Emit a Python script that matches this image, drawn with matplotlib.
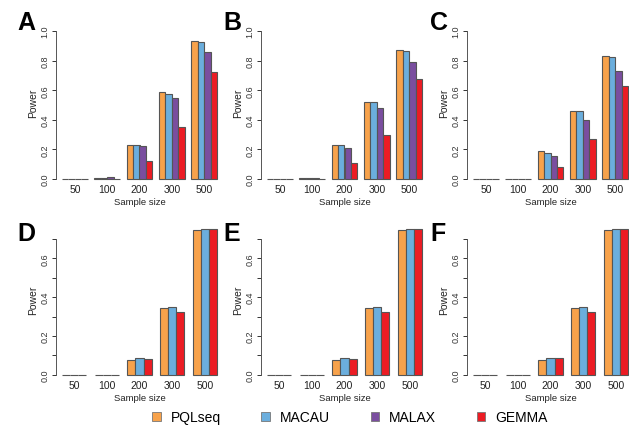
import numpy as np
import matplotlib
matplotlib.use("Agg")
import matplotlib.pyplot as plt
from matplotlib.patches import Patch

plt.rcParams['font.family'] = ['Liberation Sans', 'DejaVu Sans']

sizes = ["50", "100", "200", "300", "500"]
methods_top = ["PQLseq", "MACAU", "MALAX", "GEMMA"]
methods_bottom = ["PQLseq", "MACAU", "GEMMA"]
colors = {"PQLseq": "#F7A24B", "MACAU": "#6BAEDD", "MALAX": "#7A4E9F", "GEMMA": "#EC1C24"}

# power values, one list per method (sample sizes 50,100,200,300,500)
A_pqlseq = [0.0, 0.005, 0.232, 0.585, 0.930]
A_macau = [0.0, 0.006, 0.229, 0.574, 0.924]
A_malax = [0.0, 0.012, 0.223, 0.547, 0.855]
A_gemma = [0.0, 0.002, 0.120, 0.349, 0.724]

B_pqlseq = [0.0, 0.008, 0.232, 0.523, 0.874]
B_macau = [0.0, 0.008, 0.232, 0.523, 0.867]
B_malax = [0.0, 0.008, 0.209, 0.480, 0.788]
B_gemma = [0.0, 0.003, 0.108, 0.297, 0.676]

C_pqlseq = [0.0, 0.0, 0.187, 0.457, 0.829]
C_macau = [0.0, 0.0, 0.173, 0.457, 0.822]
C_malax = [0.0, 0.0, 0.158, 0.396, 0.732]
C_gemma = [0.0, 0.0, 0.083, 0.270, 0.626]

D_pqlseq = [0.0, 0.0, 0.077, 0.342, 0.746]
D_macau = [0.0, 0.0, 0.084, 0.347, 0.753]
D_gemma = [0.0, 0.0, 0.083, 0.321, 0.750]

E_pqlseq = [0.0, 0.0, 0.077, 0.344, 0.746]
E_macau = [0.0, 0.0, 0.086, 0.347, 0.752]
E_gemma = [0.0, 0.0, 0.083, 0.321, 0.749]

F_pqlseq = [0.0, 0.0, 0.078, 0.344, 0.748]
F_macau = [0.0, 0.0, 0.086, 0.347, 0.753]
F_gemma = [0.0, 0.0, 0.084, 0.321, 0.750]

panels = [
    ("A", [A_pqlseq, A_macau, A_malax, A_gemma], methods_top),
    ("B", [B_pqlseq, B_macau, B_malax, B_gemma], methods_top),
    ("C", [C_pqlseq, C_macau, C_malax, C_gemma], methods_top),
    ("D", [D_pqlseq, D_macau, D_gemma], methods_bottom),
    ("E", [E_pqlseq, E_macau, E_gemma], methods_bottom),
    ("F", [F_pqlseq, F_macau, F_gemma], methods_bottom),
]

W, H = 629, 431
fig = plt.figure(figsize=(W / 100, H / 100), dpi=100)

# pixel layout: bar span of each column, y of zero and scale of each row
col_bars = [(62, 217), (267, 422), (473, 628)]
letter_x = [17, 223, 430]
rows = [dict(y0=180, ppu=148, ytop=1.0, ymax=1.04, letter_y=35,
             yticks=[0, 0.2, 0.4, 0.6, 0.8, 1.0], lab=None),
        dict(y0=375.7, ppu=194, ytop=0.7, ymax=0.78, letter_y=246,
             yticks=np.arange(0, 0.71, 0.1), lab=[0, 0.2, 0.4, 0.6])]

for i, (letter, vals, meths) in enumerate(panels):
    r = rows[i // 3]
    b0, b1 = col_bars[i % 3]
    n = len(meths)
    span = 5 * (n + 1) - 1
    ppu_x = (b1 - b0) / span
    ext = 0.04 * span
    xl, xr = 1 - ext, 5 * (n + 1) + ext
    left_px = b0 - ext * ppu_x
    right_px = b1 + ext * ppu_x
    bot_px = r["y0"] + 1
    ymin = -1 / r["ppu"]
    top_px = r["y0"] - r["ymax"] * r["ppu"]
    ax = fig.add_axes([left_px / W, 1 - bot_px / H, (right_px - left_px) / W, (bot_px - top_px) / H])
    ax.set_xlim(xl, xr)
    ax.set_ylim(ymin, r["ymax"])

    for j, m in enumerate(meths):
        xs = [1 + g * (n + 1) + j for g in range(5)]
        ax.bar(xs, vals[j], width=1, align="edge", color=colors[m],
               edgecolor="#555555", linewidth=0.8, clip_on=False)

    centers = [1 + g * (n + 1) + n / 2 for g in range(5)]
    ax.set_xticks(centers)
    ax.set_xticklabels(sizes, fontsize=7.5, color="#222222")
    ax.tick_params(axis="x", length=0, pad=3)

    ax.set_yticks(r["yticks"])
    if r["lab"] is None:
        ax.set_yticklabels(["%.1f" % t for t in r["yticks"]], rotation=90, va="center")
    else:
        ax.set_yticklabels(["%.1f" % t if any(abs(t - l) < 1e-6 for l in r["lab"]) else ""
                            for t in r["yticks"]], rotation=90, va="center")
    ax.tick_params(axis="y", length=3, width=0.7, pad=1.5, labelsize=6.5, colors="#333333")

    for s in ["top", "right", "bottom"]:
        ax.spines[s].set_visible(False)
    ax.spines["left"].set_bounds(0, r["ytop"])
    ax.spines["left"].set_color("#555555")
    ax.spines["left"].set_linewidth(0.7)

    ax.set_ylabel("Power", fontsize=7.5, labelpad=2, color="#222222")
    ax.set_xlabel("Sample size", fontsize=6.8, labelpad=2, color="#222222")
    ax.patch.set_visible(False)

    fig.text(letter_x[i % 3] / W, 1 - r["letter_y"] / H, letter,
             fontsize=18, fontweight="bold", va="bottom")

handles = [Patch(facecolor=colors[m], edgecolor="#777777", linewidth=0.6) for m in methods_top]
fig.legend(handles, methods_top, loc="center", bbox_to_anchor=(350 / W, 1 - 418 / H), ncol=4,
           frameon=False, fontsize=10, handlelength=0.6, handleheight=0.6, columnspacing=2.9,
           handletextpad=0.75)

fig.savefig("out.png", dpi=100)
